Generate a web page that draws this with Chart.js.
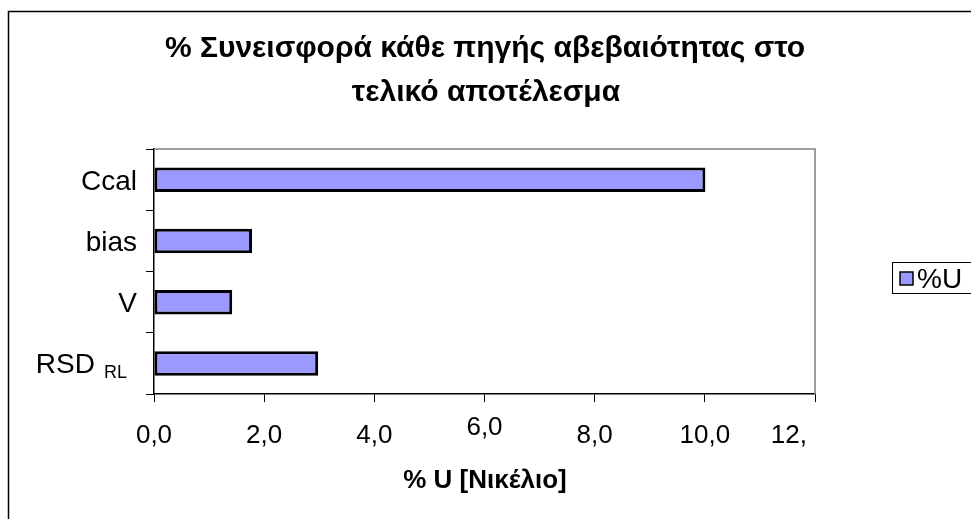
<!DOCTYPE html>
<html>
<head>
<meta charset="utf-8">
<script src="https://cdn.jsdelivr.net/npm/chart.js@4/dist/chart.umd.min.js"></script>
<style>
  html, body { margin: 0; padding: 0; background: #fff; }
  #wrap { width: 971px; height: 519px; }
</style>
</head>
<body>
<div id="wrap"><canvas id="c" width="971" height="519"></canvas></div>
<script>
// Uncertainty sources, listed top to bottom
const categories = ['Ccal', 'bias', 'V', 'RSD'];
const categorySubscripts = ['', '', '', 'RL'];
// Percentage contribution of each source
const uValues = [10.01, 1.78, 1.42, 2.98];
// Axis tick values and their printed labels
const xTickValues = [0, 2, 4, 6, 8, 10, 12];
const xTickLabels = ['0,0', '2,0', '4,0', '6,0', '8,0', '10,0', '12,'];
const titleLines = ['% Συνεισφορά κάθε πηγής αβεβαιότητας στο', 'τελικό αποτέλεσμα'];
const xAxisTitle = '% U [Νικέλιο]';
const seriesName = '%U';

const FONT = '"Liberation Sans", Arial, sans-serif';
const BAR_FILL = '#9999FF';

const decorations = {
  id: 'decorations',
  beforeDraw(chart) {
    const ctx = chart.ctx;
    ctx.save();
    ctx.fillStyle = '#fff';
    ctx.fillRect(0, 0, chart.width, chart.height);
    // outer frame
    ctx.strokeStyle = '#000';
    ctx.lineWidth = 1.5;
    ctx.beginPath();
    ctx.moveTo(8.5, chart.height + 2);
    ctx.lineTo(8.5, 11.5);
    ctx.lineTo(chart.width + 2, 11.5);
    ctx.stroke();
    ctx.restore();
  },
  afterDraw(chart) {
    const ctx = chart.ctx;
    const area = chart.chartArea;
    const xs = chart.scales.x;
    const ys = chart.scales.y;
    ctx.save();

    // plot area top and right edges
    ctx.strokeStyle = '#808080';
    ctx.lineWidth = 1.5;
    ctx.beginPath();
    ctx.moveTo(area.left, area.top);
    ctx.lineTo(area.right, area.top);
    ctx.lineTo(area.right, area.bottom);
    ctx.stroke();

    // title
    ctx.fillStyle = '#000';
    ctx.textAlign = 'center';
    ctx.textBaseline = 'middle';
    ctx.font = 'bold 30px ' + FONT;
    ctx.fillText(titleLines[0], 485, 49);
    ctx.fillText(titleLines[1], 486, 93);

    // category labels
    categories.forEach((name, i) => {
      const y = ys.getPixelForValue(i);
      const sub = categorySubscripts[i];
      ctx.textBaseline = 'alphabetic';
      ctx.textAlign = 'right';
      let right = 137;
      if (sub) {
        ctx.font = '18px ' + FONT;
        ctx.fillText(sub, 127, y + 15);
        const w = ctx.measureText(sub).width;
        right = 127 - w - 9;
      }
      ctx.font = '28px ' + FONT;
      ctx.fillText(name, right, y + 10);
    });

    // value axis labels
    ctx.font = '26px ' + FONT;
    ctx.textBaseline = 'middle';
    xTickValues.forEach((v, i) => {
      const x = xs.getPixelForValue(v);
      const label = xTickLabels[i];
      const raised = v === 6 ? -8 : 0;
      if (label.endsWith(',')) {
        ctx.textAlign = 'right';
        ctx.fillText(label, x - 8, 436);
      } else {
        ctx.textAlign = 'center';
        ctx.fillText(label, x, 436 + raised);
      }
    });

    // value axis title
    ctx.font = 'bold 26px ' + FONT;
    ctx.textAlign = 'center';
    ctx.fillText(xAxisTitle, 485, 481);

    // legend
    ctx.strokeStyle = '#000';
    ctx.lineWidth = 1;
    ctx.strokeRect(892.5, 262.5, 100, 31);
    ctx.fillStyle = BAR_FILL;
    ctx.fillRect(900, 272, 13, 13);
    ctx.lineWidth = 1.5;
    ctx.strokeRect(900, 272, 13, 13);
    ctx.fillStyle = '#000';
    ctx.font = '28px ' + FONT;
    ctx.textAlign = 'left';
    ctx.fillText(seriesName, 917, 280);

    ctx.restore();
  }
};

new Chart(document.getElementById('c'), {
  type: 'bar',
  data: {
    labels: categories,
    datasets: [{
      label: seriesName,
      data: uValues,
      backgroundColor: BAR_FILL,
      borderColor: '#000',
      borderWidth: 3,
      borderSkipped: false,
      barPercentage: 0.4,
      categoryPercentage: 1
    }]
  },
  options: {
    indexAxis: 'y',
    responsive: false,
    animation: false,
    devicePixelRatio: 1,
    layout: { padding: { left: 146, top: 149, right: 156, bottom: 117 } },
    plugins: { legend: { display: false }, title: { display: false }, tooltip: { enabled: false } },
    scales: {
      x: {
        min: 0, max: 12,
        ticks: { display: false, stepSize: 2 },
        grid: { drawOnChartArea: false, drawTicks: true, tickLength: 8, color: '#000', lineWidth: 1 },
        border: { display: true, color: '#000', width: 1.5 },
        afterFit(s) { s.height = 8; }
      },
      y: {
        offset: true,
        ticks: { display: false },
        grid: { offset: true, drawOnChartArea: false, drawTicks: true, tickLength: 8, color: '#000', lineWidth: 1 },
        border: { display: true, color: '#000', width: 1.5 },
        afterFit(s) { s.width = 8; }
      }
    }
  },
  plugins: [decorations]
});
</script>
</body>
</html>
